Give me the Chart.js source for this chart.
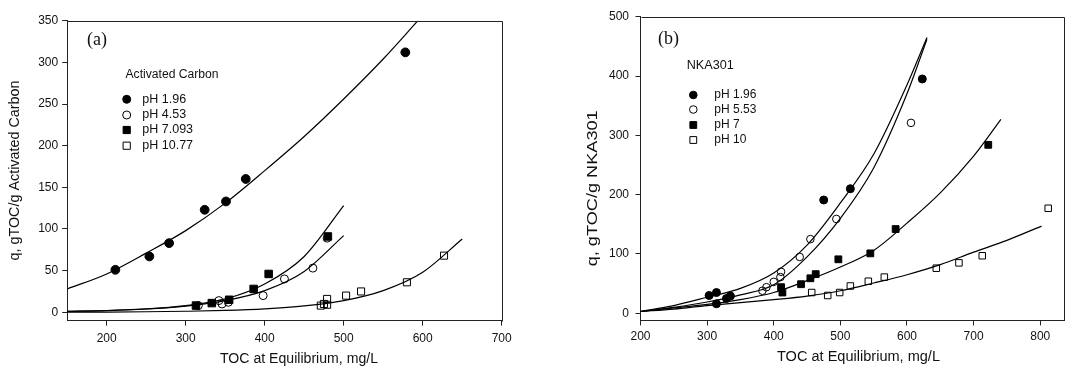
<!DOCTYPE html>
<html><head><meta charset="utf-8">
<script src="https://cdn.jsdelivr.net/npm/chart.js@4.4.1/dist/chart.umd.min.js"></script>
<style>
html,body{margin:0;padding:0;background:#fff;overflow:hidden;width:1065px;height:371px;position:relative;}
#ca{position:absolute;left:0;top:0;}
#cb{position:absolute;left:560px;top:0;}
</style></head><body>
<canvas id="ca" width="530" height="371"></canvas>
<canvas id="cb" width="510" height="371"></canvas>
<script>
// ---------- Panel (a): Activated Carbon ----------
const aLabels = ['pH 1.96', 'pH 4.53', 'pH 7.093', 'pH 10.77'];
const aX_pH196 = [211, 254, 279, 324, 351, 376, 578];
const aY_pH196 = [51, 67, 83, 123, 133, 160, 312];
const aX_pH453 = [316, 342, 346, 354, 398, 425, 461, 479];
const aY_pH453 = [8, 14, 10, 12, 20, 40, 53, 89];
const aX_pH7093 = [313, 333, 355, 386, 405, 480];
const aY_pH7093 = [8, 11, 15, 28, 46, 91];
const aX_pH1077 = [471, 475, 479, 479, 503, 522, 580, 627];
const aY_pH1077 = [8, 10, 9, 16, 20, 25, 36, 68];
// fitted curves
const aFitX_196 = [150, 200, 250, 300, 350, 400, 450, 500, 550, 594];
const aFitY_196 = [28, 46, 71, 98, 131, 170, 211, 256, 304, 350];
const aFitX_7093 = [150, 200, 250, 300, 350, 400, 450, 500];
const aFitY_7093 = [1, 2, 4, 8, 16, 34, 67, 128];
const aFitX_453 = [150, 200, 250, 300, 350, 400, 450, 500];
const aFitY_453 = [1.1, 2.1, 3.9, 7.4, 14, 26, 49, 92];
const aFitX_1077 = [150, 200, 250, 300, 350, 400, 450, 500, 550, 600, 650];
const aFitY_1077 = [0.1, 0.2, 0.6, 1.2, 2.2, 4.1, 7.6, 14, 26, 48, 88];
const aXTicks = [200, 300, 400, 500, 600, 700];
const aYTicks = [0, 50, 100, 150, 200, 250, 300, 350];

// ---------- Panel (b): NKA301 ----------
const bLabels = ['pH 1.96', 'pH 5.53', 'pH 7', 'pH 10'];
const bX_pH196 = [303, 314, 314, 329, 335, 475, 515, 623];
const bY_pH196 = [30, 35, 16, 25, 29, 191, 210, 395];
const bX_pH553 = [383, 389, 400, 410, 411, 439, 455, 494, 606];
const bY_pH553 = [38, 44, 53, 61, 70, 95, 125, 159, 321];
const bX_pH7 = [411, 413, 441, 455, 463, 497, 545, 583, 722];
const bY_pH7 = [44, 35, 49, 59, 66, 91, 101, 142, 284];
const bX_pH10 = [457, 481, 499, 515, 542, 566, 644, 678, 713, 812];
const bY_pH10 = [35, 30, 35, 46, 54, 61, 76, 85, 97, 177];
const bFitX_196 = [200, 250, 300, 350, 400, 450, 500, 550, 600, 630];
const bFitY_196 = [3, 13, 27, 42, 68, 115, 186, 268, 385, 465];
const bFitX_553 = [200, 250, 300, 350, 400, 450, 500, 550, 600, 630];
const bFitY_553 = [3, 10, 19, 31, 48, 95, 160, 245, 370, 462];
const bFitX_7 = [200, 250, 300, 350, 400, 450, 500, 550, 600, 650, 700, 741];
const bFitY_7 = [3, 9, 15, 23, 35, 55, 78, 106, 152, 203, 265, 327];
const bFitX_10 = [200, 250, 300, 350, 400, 450, 500, 550, 600, 650, 700, 750, 802];
const bFitY_10 = [3, 7, 13, 18, 23, 29, 38, 51, 65, 82, 103, 123, 147];
const bXTicks = [200, 300, 400, 500, 600, 700, 800];
const bYTicks = [0, 100, 200, 300, 400, 500];

const SANS = '"Liberation Sans", Arial, sans-serif';
const SERIF = '"Liberation Serif", "Times New Roman", serif';

const pts = (xs, ys) => xs.map((x, i) => ({x, y: ys[i]}));

const markerStyles = [
  {style: 'circle', fill: '#000'},
  {style: 'circle', fill: 'rgba(0,0,0,0)'},
  {style: 'rect', fill: '#000'},
  {style: 'rect', fill: 'rgba(0,0,0,0)'}
];

function pointSet(label, xs, ys, k, rc, rr) {
  const m = markerStyles[k];
  return {
    label, data: pts(xs, ys), showLine: false,
    pointStyle: m.style, pointRadius: m.style === 'circle' ? rc : rr,
    pointBackgroundColor: m.fill, pointBorderColor: '#000', pointBorderWidth: 1,
    pointHoverRadius: m.style === 'circle' ? rc : rr, order: 1
  };
}
function lineSet(xs, ys) {
  return {
    label: 'fit', data: pts(xs, ys), showLine: true, pointRadius: 0, pointHoverRadius: 0,
    borderColor: '#000', borderWidth: 1.2, fill: false, cubicInterpolationMode: 'monotone', order: 2
  };
}

function overlay(items, legend) {
  return {
    id: 'overlay',
    afterDraw(chart) {
      const ctx = chart.ctx, a = chart.chartArea;
      ctx.save();
      ctx.strokeStyle = '#222'; ctx.lineWidth = 1;
      ctx.beginPath();
      ctx.moveTo(Math.round(a.left) + 0.5, Math.round(a.top) + 0.5);
      ctx.lineTo(Math.round(a.right) + 0.5, Math.round(a.top) + 0.5);
      ctx.lineTo(Math.round(a.right) + 0.5, Math.round(a.bottom) + 0.5);
      ctx.stroke();
      items.forEach(it => {
        ctx.save();
        ctx.font = `${it.size}px ${it.family}`;
        ctx.fillStyle = '#111';
        ctx.textBaseline = 'middle';
        ctx.textAlign = it.align || 'left';
        ctx.translate(it.x, it.y);
        if (it.rot) ctx.rotate(it.rot);
        if (it.w) { const m = ctx.measureText(it.text).width; ctx.scale(it.w / m, 1); }
        ctx.fillText(it.text, 0, 0);
        ctx.restore();
      });
      legend.rows.forEach((r, i) => {
        const m = markerStyles[i];
        const cx = legend.mx, cy = r.y;
        ctx.beginPath();
        if (m.style === 'circle') ctx.arc(cx, cy, legend.rc, 0, Math.PI * 2);
        else ctx.rect(cx - legend.hs, cy - legend.hs, legend.hs * 2, legend.hs * 2);
        if (m.fill === '#000') { ctx.fillStyle = '#000'; ctx.fill(); }
        ctx.strokeStyle = '#000'; ctx.lineWidth = 1; ctx.stroke();
        ctx.font = `${legend.size}px ${SANS}`;
        ctx.fillStyle = '#111'; ctx.textAlign = 'left'; ctx.textBaseline = 'middle';
        ctx.fillText(r.text, legend.tx, cy);
      });
      ctx.restore();
    }
  };
}

function axisOpts(min, max, step, tickList, fitSize, isX, pad) {
  return {
    type: 'linear', min, max,
    afterBuildTicks: ax => { ax.ticks = tickList.map(v => ({value: v})); },
    afterFit: s => { if (isX) s.height = fitSize; else s.width = fitSize; },
    ticks: {stepSize: step, color: '#111', font: {family: SANS, size: 12}, padding: pad, maxRotation: 0, autoSkip: false},
    grid: {display: true, drawOnChartArea: false, drawTicks: true, tickLength: 5, color: '#222', lineWidth: 1},
    border: {display: true, color: '#222', width: 1}
  };
}

// Panel (a)
new Chart(document.getElementById('ca'), {
  type: 'scatter',
  data: {datasets: [
    lineSet(aFitX_196, aFitY_196),
    lineSet(aFitX_7093, aFitY_7093),
    lineSet(aFitX_453, aFitY_453),
    lineSet(aFitX_1077, aFitY_1077),
    pointSet(aLabels[0], aX_pH196, aY_pH196, 0, 4.4, 5.3),
    pointSet(aLabels[1], aX_pH453, aY_pH453, 1, 4.0, 5.0),
    pointSet(aLabels[2], aX_pH7093, aY_pH7093, 2, 4.4, 5.3),
    pointSet(aLabels[3], aX_pH1077, aY_pH1077, 3, 4.4, 5.0)
  ]},
  options: {
    responsive: false, animation: false, devicePixelRatio: 1,
    layout: {padding: {left: 0, top: 20.7, right: 28.3, bottom: 0}},
    plugins: {legend: {display: false}, tooltip: {enabled: false}},
    scales: {
      x: axisOpts(150, 700, 100, aXTicks, 50.4, true, 6),
      y: axisOpts(-10, 350, 50, aYTicks, 67.2, false, 4)
    }
  },
  plugins: [overlay([
    {text: 'TOC at Equilibrium, mg/L', x: 299, y: 359, size: 14, family: SANS, align: 'center', w: 158},
    {text: 'q, gTOC/g Activated Carbon', x: 15, y: 170.5, size: 14, family: SANS, align: 'center', rot: -Math.PI / 2, w: 180},
    {text: '(a)', x: 87, y: 40.5, size: 18, family: SERIF, align: 'left'},
    {text: 'Activated Carbon', x: 125.5, y: 75, size: 12, family: SANS, align: 'left', w: 93}
  ], {mx: 126.7, tx: 142.3, size: 12.5, rc: 4, hs: 3.6,
      rows: [{text: aLabels[0], y: 99.3}, {text: aLabels[1], y: 115}, {text: aLabels[2], y: 130}, {text: aLabels[3], y: 145.7}]})]
});

// Panel (b)
new Chart(document.getElementById('cb'), {
  type: 'scatter',
  data: {datasets: [
    lineSet(bFitX_196, bFitY_196),
    lineSet(bFitX_553, bFitY_553),
    lineSet(bFitX_7, bFitY_7),
    lineSet(bFitX_10, bFitY_10),
    pointSet(bLabels[0], bX_pH196, bY_pH196, 0, 4.0, 4.8),
    pointSet(bLabels[1], bX_pH553, bY_pH553, 1, 3.8, 4.6),
    pointSet(bLabels[2], bX_pH7, bY_pH7, 2, 4.0, 4.8),
    pointSet(bLabels[3], bX_pH10, bY_pH10, 3, 4.0, 4.6)
  ]},
  options: {
    responsive: false, animation: false, devicePixelRatio: 1,
    layout: {padding: {left: 0, top: 16.7, right: 3.2, bottom: 0}},
    plugins: {legend: {display: false}, tooltip: {enabled: false}},
    scales: {
      x: axisOpts(200, 836, 100, bXTicks, 50.6, true, 4.5),
      y: axisOpts(-12, 500, 100, bYTicks, 80.5, false, 6.5)
    }
  },
  plugins: [overlay([
    {text: 'TOC at Equilibrium, mg/L', x: 298.5, y: 357, size: 14, family: SANS, align: 'center', w: 163},
    {text: 'q, gTOC/g NKA301', x: 33.3, y: 188.3, size: 14, family: SANS, align: 'center', rot: -Math.PI / 2, w: 156},
    {text: '(b)', x: 98, y: 39, size: 18, family: SERIF, align: 'left'},
    {text: 'NKA301', x: 126.7, y: 66, size: 12, family: SANS, align: 'left', w: 47}
  ], {mx: 133.3, tx: 154.3, size: 12, rc: 3.8, hs: 3.4,
      rows: [{text: bLabels[0], y: 95}, {text: bLabels[1], y: 109.5}, {text: bLabels[2], y: 125}, {text: bLabels[3], y: 140}]})]
});
</script>
</body></html>
